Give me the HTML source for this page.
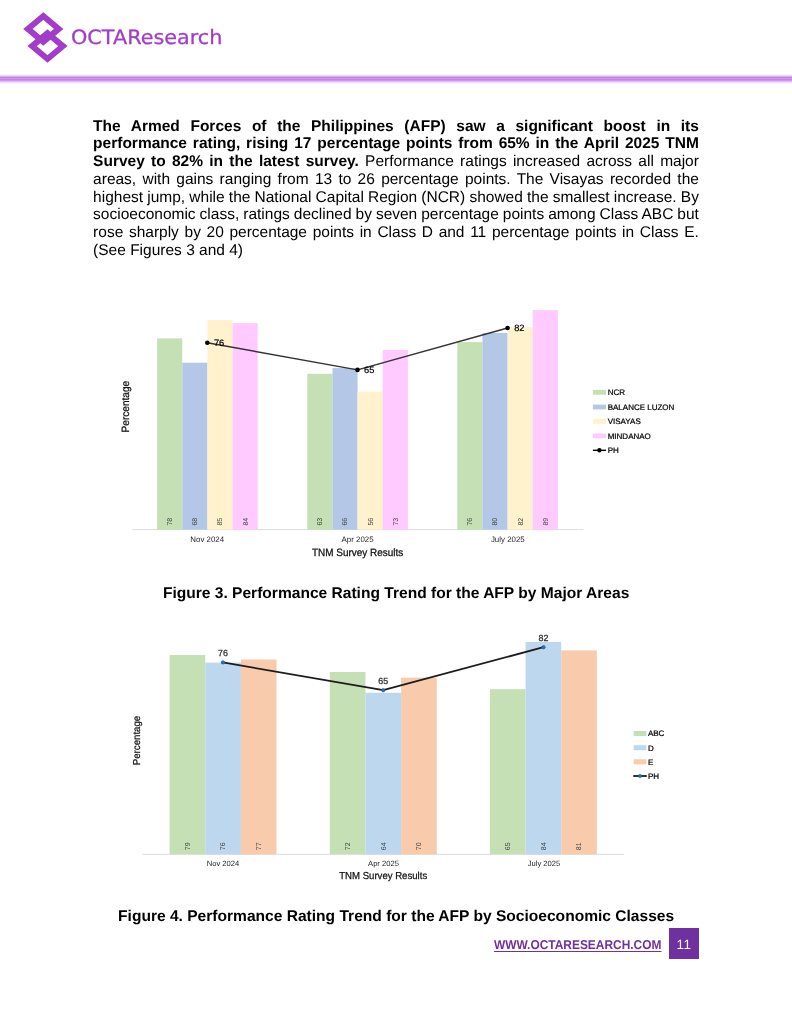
<!DOCTYPE html>
<html lang="en"><head><meta charset="utf-8"><title>OCTA Research</title>
<style>
html,body{margin:0;padding:0;background:#fff;}
body{width:792px;height:1024px;position:relative;overflow:hidden;font-family:"Liberation Sans",sans-serif;color:#000;text-rendering:geometricPrecision;}
.abs{position:absolute;}
#hline{left:0;top:74px;width:792px;height:10px;background:linear-gradient(to bottom,#fff 0%,#fbf5fd 5%,#ead6f5 15%,#d9b3ee 25%,#c47fe0 35%,#d29ae8 45%,#c684e2 55%,#cf98e6 65%,#e0c0f0 75%,#f0e0f8 85%,#fbf7fd 95%,#fff 100%);}
#brand{left:70.8px;top:24.1px;font-family:"DejaVu Sans","Liberation Sans",sans-serif;font-size:19.8px;line-height:28px;color:#a23dc9;white-space:nowrap;letter-spacing:0;transform:scaleX(1.05);transform-origin:0 0;-webkit-text-stroke:0.3px #a23dc9;}
#para{left:93.1px;top:116.6px;transform:translateY(0.6px);width:605.8px;font-size:15.5px;line-height:17.77px;}
.ln{white-space:nowrap;height:17.77px;}
.cap{left:0.1px;width:792px;text-align:center;font-weight:bold;font-size:15.57px;line-height:18px;white-space:nowrap;}
#pg{left:668.7px;top:927.8px;width:30.2px;height:31.7px;background:#7030a0;color:#fff;font-size:13.4px;line-height:34.2px;text-align:center;letter-spacing:0.7px;text-indent:0.7px;}
#url{left:493.6px;top:935.6px;font-weight:bold;font-size:12.8px;line-height:18px;color:#7030a0;text-decoration:underline;text-decoration-thickness:1px;text-underline-offset:1.6px;white-space:nowrap;transform:scaleX(0.932);transform-origin:0 0;}
svg text{font-family:"Liberation Sans",sans-serif;text-rendering:geometricPrecision;}
.vl{font-size:7px;fill:#404040;}
.cat{font-size:7.9px;fill:#262626;}
.cat2{font-size:7.6px;fill:#262626;}
.ttl{font-size:10.6px;fill:#111;stroke:#111;stroke-width:0.28px;}
.ttl2{font-size:10.1px;fill:#111;stroke:#111;stroke-width:0.25px;}
.lg{font-size:8px;fill:#000;stroke:#000;stroke-width:0.22px;}
.dl{font-size:9.3px;fill:#000;stroke:#000;stroke-width:0.2px;}
.dl2{font-size:8.9px;fill:#333;stroke:#333;stroke-width:0.3px;}
</style></head><body>
<svg class="abs" style="left:0;top:0" width="792" height="1024" viewBox="0 0 792 1024">
<g fill="none" stroke="#a23dc9" stroke-width="6.0" stroke-linejoin="miter">
<path d="M43.3 16.05 L58.7 28.9 L43.3 41.75 L27.9 28.9 Z"/>
<path d="M47.5 33.25 L62.9 46.1 L47.5 58.95 L32.1 46.1 Z"/>
</g>
<line x1="132" y1="529.6" x2="583.5" y2="529.6" stroke="#dcdcdc" stroke-width="1"/>
<rect x="157.10" y="338.40" width="25.15" height="191.20" fill="#c5e0b4"/>
<text class="vl" transform="translate(172.07,521.70) rotate(-90)" text-anchor="middle">78</text>
<rect x="182.25" y="362.70" width="25.15" height="166.90" fill="#b4c7e7"/>
<text class="vl" transform="translate(197.22,521.70) rotate(-90)" text-anchor="middle">68</text>
<rect x="207.40" y="320.00" width="25.15" height="209.60" fill="#fff2cc"/>
<text class="vl" transform="translate(222.37,521.70) rotate(-90)" text-anchor="middle">85</text>
<rect x="232.55" y="323.10" width="25.15" height="206.50" fill="#ffcaff"/>
<text class="vl" transform="translate(247.52,521.70) rotate(-90)" text-anchor="middle">84</text>
<rect x="307.30" y="373.80" width="25.15" height="155.80" fill="#c5e0b4"/>
<text class="vl" transform="translate(322.27,521.70) rotate(-90)" text-anchor="middle">63</text>
<rect x="332.45" y="368.10" width="25.15" height="161.50" fill="#b4c7e7"/>
<text class="vl" transform="translate(347.42,521.70) rotate(-90)" text-anchor="middle">66</text>
<rect x="357.60" y="391.60" width="25.15" height="138.00" fill="#fff2cc"/>
<text class="vl" transform="translate(372.57,521.70) rotate(-90)" text-anchor="middle">56</text>
<rect x="382.75" y="349.90" width="25.15" height="179.70" fill="#ffcaff"/>
<text class="vl" transform="translate(397.72,521.70) rotate(-90)" text-anchor="middle">73</text>
<rect x="457.30" y="342.10" width="25.15" height="187.50" fill="#c5e0b4"/>
<text class="vl" transform="translate(472.27,521.70) rotate(-90)" text-anchor="middle">76</text>
<rect x="482.45" y="332.90" width="25.15" height="196.70" fill="#b4c7e7"/>
<text class="vl" transform="translate(497.42,521.70) rotate(-90)" text-anchor="middle">80</text>
<rect x="507.60" y="327.10" width="25.15" height="202.50" fill="#fff2cc"/>
<text class="vl" transform="translate(522.58,521.70) rotate(-90)" text-anchor="middle">82</text>
<rect x="532.75" y="310.10" width="25.15" height="219.50" fill="#ffcaff"/>
<text class="vl" transform="translate(547.73,521.70) rotate(-90)" text-anchor="middle">89</text>
<polyline points="207.3,342.8 357.5,369.9 507.6,328.0" fill="none" stroke="#333" stroke-width="1.45" stroke-linejoin="round"/>
<circle cx="207.3" cy="342.8" r="2.3" fill="#000"/>
<text class="dl" x="213.9" y="345.8" >76</text>
<circle cx="357.5" cy="369.9" r="2.3" fill="#000"/>
<text class="dl" x="364.1" y="372.9" >65</text>
<circle cx="507.6" cy="328.0" r="2.3" fill="#000"/>
<text class="dl" x="514.2" y="331.0" >82</text>
<text class="cat" x="207.2" y="542.1" text-anchor="middle">Nov 2024</text>
<text class="cat" x="357.6" y="542.1" text-anchor="middle">Apr 2025</text>
<text class="cat" x="507.8" y="542.1" text-anchor="middle">July 2025</text>
<text class="ttl" x="312" y="556" textLength="91.2" lengthAdjust="spacingAndGlyphs">TNM Survey Results</text>
<text class="ttl" transform="translate(129,432.4) rotate(-90)" textLength="51.6" lengthAdjust="spacingAndGlyphs">Percentage</text>
<rect x="592.9" y="389.9" width="13.1" height="4.8" fill="#c5e0b4"/>
<text class="lg" x="607.7" y="395.2">NCR</text>
<rect x="592.9" y="404.6" width="13.1" height="4.8" fill="#b4c7e7"/>
<text class="lg" x="607.7" y="409.9">BALANCE LUZON</text>
<rect x="592.9" y="419.0" width="13.1" height="4.8" fill="#fff2cc"/>
<text class="lg" x="607.7" y="424.3">VISAYAS</text>
<rect x="592.9" y="433.5" width="13.1" height="4.8" fill="#ffcaff"/>
<text class="lg" x="607.7" y="438.8">MINDANAO</text>
<line x1="592.9" y1="450.3" x2="606" y2="450.3" stroke="#000" stroke-width="1.4"/>
<circle cx="599.4" cy="450.3" r="2.2" fill="#000"/>
<text class="lg" x="607.7" y="453.2">PH</text>
<line x1="142.8" y1="854.3" x2="624.2" y2="854.3" stroke="#dcdcdc" stroke-width="1"/>
<rect x="169.60" y="655.00" width="35.65" height="199.30" fill="#c5e0b4"/>
<text class="vl" transform="translate(189.82,846.30) rotate(-90)" text-anchor="middle">79</text>
<rect x="205.25" y="662.60" width="35.65" height="191.70" fill="#bdd7ee"/>
<text class="vl" transform="translate(225.47,846.30) rotate(-90)" text-anchor="middle">76</text>
<rect x="240.90" y="659.50" width="35.65" height="194.80" fill="#f8cbad"/>
<text class="vl" transform="translate(261.12,846.30) rotate(-90)" text-anchor="middle">77</text>
<rect x="329.80" y="672.00" width="35.65" height="182.30" fill="#c5e0b4"/>
<text class="vl" transform="translate(350.02,846.30) rotate(-90)" text-anchor="middle">72</text>
<rect x="365.45" y="692.80" width="35.65" height="161.50" fill="#bdd7ee"/>
<text class="vl" transform="translate(385.67,846.30) rotate(-90)" text-anchor="middle">64</text>
<rect x="401.10" y="677.60" width="35.65" height="176.70" fill="#f8cbad"/>
<text class="vl" transform="translate(421.32,846.30) rotate(-90)" text-anchor="middle">70</text>
<rect x="489.90" y="689.20" width="35.65" height="165.10" fill="#c5e0b4"/>
<text class="vl" transform="translate(510.12,846.30) rotate(-90)" text-anchor="middle">65</text>
<rect x="525.55" y="641.90" width="35.65" height="212.40" fill="#bdd7ee"/>
<text class="vl" transform="translate(545.77,846.30) rotate(-90)" text-anchor="middle">84</text>
<rect x="561.20" y="650.40" width="35.65" height="203.90" fill="#f8cbad"/>
<text class="vl" transform="translate(581.42,846.30) rotate(-90)" text-anchor="middle">81</text>
<polyline points="222.9,662.4 383.2,690.2 543.5,647.2" fill="none" stroke="#1c1c1c" stroke-width="1.75" stroke-linejoin="round"/>
<circle cx="222.9" cy="662.4" r="1.7" fill="#2e75b6" stroke="#1f4e79" stroke-width="0.6"/>
<text class="dl2" x="222.9" y="656.2" text-anchor="middle">76</text>
<circle cx="383.2" cy="690.2" r="1.7" fill="#2e75b6" stroke="#1f4e79" stroke-width="0.6"/>
<text class="dl2" x="383.2" y="684.0" text-anchor="middle">65</text>
<circle cx="543.5" cy="647.2" r="1.7" fill="#2e75b6" stroke="#1f4e79" stroke-width="0.6"/>
<text class="dl2" x="543.5" y="641.0" text-anchor="middle">82</text>
<text class="cat2" x="223" y="866.1" text-anchor="middle">Nov 2024</text>
<text class="cat2" x="383.5" y="866.1" text-anchor="middle">Apr 2025</text>
<text class="cat2" x="544" y="866.1" text-anchor="middle">July 2025</text>
<text class="ttl2" x="339.2" y="879.4" textLength="88" lengthAdjust="spacingAndGlyphs">TNM Survey Results</text>
<text class="ttl2" transform="translate(139.9,765.2) rotate(-90)" textLength="49.4" lengthAdjust="spacingAndGlyphs">Percentage</text>
<rect x="633.7" y="731.0" width="12.6" height="5" fill="#c5e0b4"/>
<text class="lg" x="647.9" y="736.4">ABC</text>
<rect x="633.7" y="745.2" width="12.6" height="5" fill="#bdd7ee"/>
<text class="lg" x="647.9" y="750.6">D</text>
<rect x="633.7" y="759.3" width="12.6" height="5" fill="#f8cbad"/>
<text class="lg" x="647.9" y="764.7">E</text>
<line x1="633.2" y1="776" x2="646.8" y2="776" stroke="#1c1c1c" stroke-width="1.8"/>
<circle cx="640" cy="776" r="1.6" fill="#2e75b6" stroke="#1f4e79" stroke-width="0.6"/>
<text class="lg" x="647.9" y="778.9">PH</text>
</svg>
<div class="abs" id="hline"></div>
<div class="abs" id="brand">OCTAResearch</div>
<div class="abs" id="para">
<div class="ln" style="word-spacing:6.322px"><b>The Armed Forces of the Philippines (AFP) saw a significant boost in its</b></div>
<div class="ln" style="word-spacing:1.580px"><b>performance rating, rising 17 percentage points from 65% in the April 2025 TNM</b></div>
<div class="ln" style="word-spacing:1.978px"><b>Survey to 82% in the latest survey.</b> Performance ratings increased across all major</div>
<div class="ln" style="word-spacing:1.971px">areas, with gains ranging from 13 to 26 percentage points. The Visayas recorded the</div>
<div class="ln" style="word-spacing:-0.131px">highest jump, while the National Capital Region (NCR) showed the smallest increase. By</div>
<div class="ln" style="word-spacing:-0.304px">socioeconomic class, ratings declined by seven percentage points among Class ABC but</div>
<div class="ln" style="word-spacing:1.346px">rose sharply by 20 percentage points in Class D and 11 percentage points in Class E.</div>
<div class="ln">(See Figures 3 and 4)</div>
</div>
<div class="abs cap" style="top:585px">Figure 3. Performance Rating Trend for the AFP by Major Areas</div>
<div class="abs cap" style="top:908px">Figure 4. Performance Rating Trend for the AFP by Socioeconomic Classes</div>
<div class="abs" id="url">WWW.OCTARESEARCH.COM</div>
<div class="abs" id="pg">11</div>
</body></html>
